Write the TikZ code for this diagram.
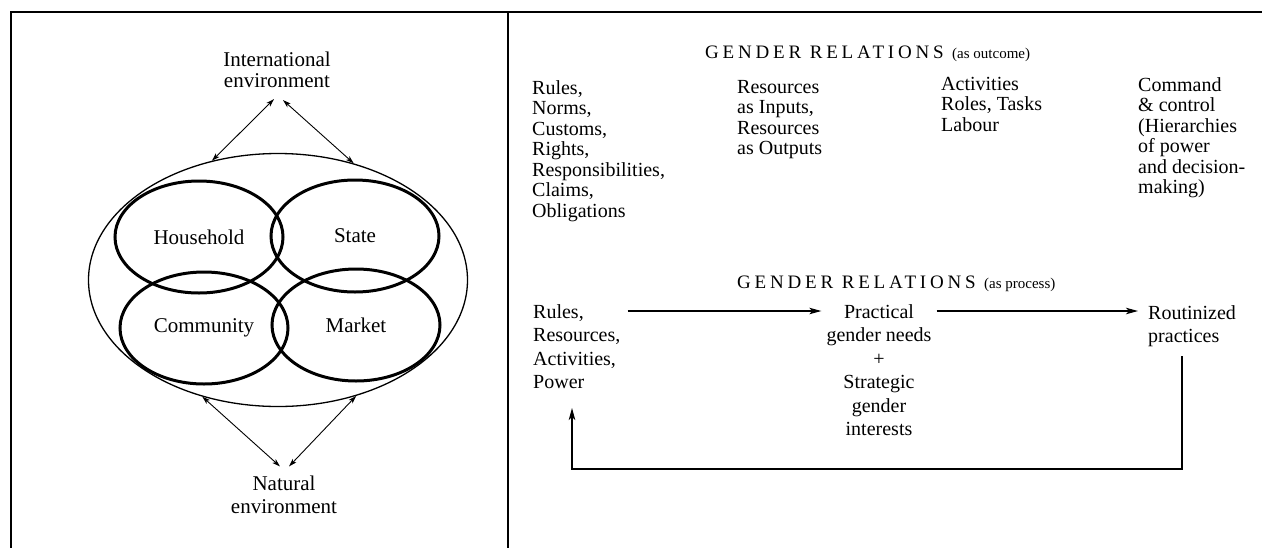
\documentclass[tikz,border=0pt]{standalone}
\usepackage{fontspec}
\setmainfont{Liberation Serif}
\newfontfamily\titlefont[LetterSpace=20]{Liberation Serif}
\usetikzlibrary{arrows.meta,shapes.geometric}
\begin{document}
\begin{tikzpicture}[x=1pt,y=-1pt,
  frame/.style={line width=2pt},
  bigell/.style={ellipse, draw, line width=1.3pt, inner sep=0pt, minimum width=379pt, minimum height=253pt},
  sector/.style={ellipse, draw, line width=3pt, inner sep=0pt, minimum width=168pt, minimum height=112pt, font=\fontsize{21}{21}\selectfont},
  envlabel/.style={align=center, inner sep=0pt, font=\fontsize{21}{21}\selectfont},
  dbl/.style={{Stealth[length=8pt,width=5pt,inset=2pt]}-{Stealth[length=8pt,width=5pt,inset=2pt]}, line width=0.9pt},
  col/.style={align=left, anchor=north west, inner sep=0pt, font=\fontsize{20}{20.5}\selectfont},
  pcol/.style={inner sep=0pt, font=\fontsize{20}{23.5}\selectfont},
  title/.style={anchor=base west, inner sep=0pt, font=\titlefont\fontsize{19}{20}\selectfont},
  arr/.style={-{Stealth[length=12pt,width=6.5pt,inset=3pt]}, line width=1.2pt}
]
\useasboundingbox (0,0) rectangle (1262,547);
\fill[white] (0,0) rectangle (1262,547);
\draw[frame] (11,548) -- (11,12) -- (1263,12);
\draw[frame] (507.5,12) -- (507.5,548);

% left diagram
\node[bigell] (outer) at (278,280) {};
\node[sector] (household) at (199,237) {Household};
\node[sector] (state) at (355,236) {State};
\node[sector] (community) at (204,328) {Community};
\node[sector] (market) at (356,325) {Market};
\node[envlabel] (intl) at (277,70) {International\\environment};
\node[envlabel, font=\fontsize{21}{23}\selectfont] (natural) at (284,494.5) {Natural\\environment};
\draw[dbl] ([xshift=-3pt,yshift=-11pt]intl.south) -- (outer.119);
\draw[dbl] ([xshift=6pt,yshift=-12pt]intl.south) -- (outer.57.5);
\draw[dbl] (outer.237.6) -- ([xshift=-4pt,yshift=9pt]natural.north);
\draw[dbl] (outer.304.4) -- ([xshift=5pt,yshift=9pt]natural.north);

% right: outcome
\node[title] (t1) at (705,58) {GENDER RELATIONS {\fontsize{15}{18}\rmfamily (as outcome)}};
\node[col] (c1) at (532,80) {Rules,\\Norms,\\Customs,\\Rights,\\Responsibilities,\\Claims,\\Obligations};
\node[col] (c2) at (737,80) {Resources\\as Inputs,\\Resources\\as Outputs};
\node[col] (c3) at (941,77) {Activities\\Roles, Tasks\\Labour};
\node[col] (c4) at (1138,77) {Command\\\& control\\(Hierarchies\\of power\\and decision-\\making)};

% right: process
\node[title] (t2) at (737,288) {GENDER RELATIONS {\fontsize{15}{18}\rmfamily (as process)}};
\node[pcol, align=left, anchor=north west] (proc1) at (533,304) {Rules,\\Resources,\\Activities,\\Power};
\node[pcol, align=center, anchor=north] (mid) at (879,304) {Practical\\gender needs\\+\\Strategic\\gender\\interests};
\node[pcol, align=left, anchor=north west] (routine) at (1148,305) {Routinized\\practices};
\draw[arr] ([xshift=7pt,yshift=-7pt]proc1.north east) -- ([xshift=-5pt,yshift=-7pt]mid.north west);
\draw[arr] ([xshift=5pt,yshift=-7pt]mid.north east) -- ([xshift=-10pt,yshift=-6pt]routine.north west);
\coordinate (loopR) at (1182,469);
\coordinate (loopL) at (572,469);
\draw[arr, shorten <=9pt, shorten >=19pt] (routine.south -| loopR) -- (loopR) -- (loopL) -- (loopL |- proc1.south);
\end{tikzpicture}
\end{document}
